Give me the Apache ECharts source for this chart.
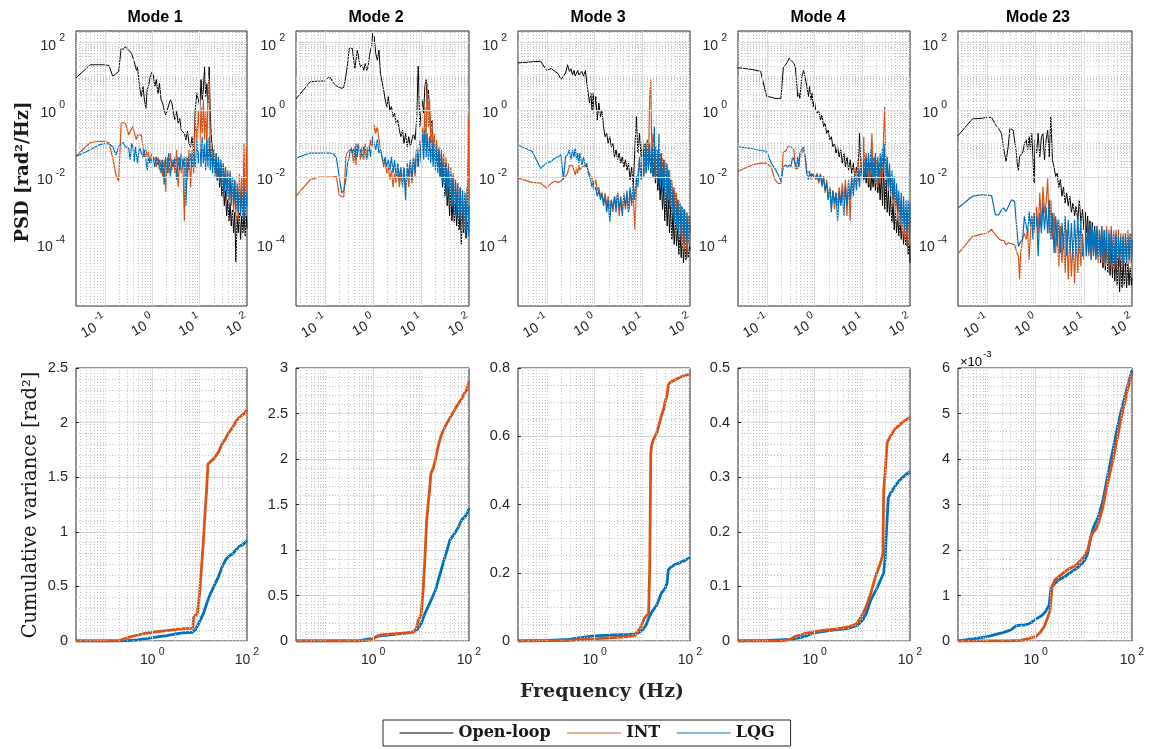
<!DOCTYPE html>
<html>
<head>
<meta charset="utf-8">
<script src="https://cdn.jsdelivr.net/npm/echarts@6.0.0/dist/echarts.min.js"></script>
<style>
html,body{margin:0;padding:0;background:#ffffff;}
#chart{width:1150px;height:749px;}
</style>
</head>
<body>
<div id="chart"></div>
<script>
// ---------------- DATA ----------------
const modeTitles = ['Mode 1', 'Mode 2', 'Mode 3', 'Mode 4', 'Mode 23'];
const seriesNames = ['Open-loop', 'INT', 'LQG'];
const psdYTickExp = [-4, -2, 0, 2];
const psdXTickExp = [-1, 0, 1, 2];
const cumXTickExp = [0, 2];
const cumYMax = [2.5, 3, 0.8, 0.5, 0.006];
const cumYStep = [0.5, 0.5, 0.2, 0.1, 0.001];

// frequency samples (Hz) shared by all PSD curves
const psdFreq = [
  0.0244,0.0488,0.0732,0.0977,0.122,0.146,0.171,0.195,0.22,0.244,0.269,0.293,0.317,0.342,0.366,0.391,0.415,0.44,0.464,0.488,
  0.537,0.586,0.635,0.684,0.732,0.781,0.83,0.879,0.928,0.977,
  1.05,1.13,1.22,1.32,1.42,1.53,1.65,1.78,1.92,2.07,2.23,2.41,2.6,2.8,3.02,3.26,3.52,3.79,4.09,4.41,4.76,5.13,5.53,5.97,6.44,6.94,7.49,8.07,8.71,9.39,
  10.1,10.7,11.3,12,12.7,13.4,14.2,15,15.9,16.8,17.8,18.8,19.9,21.1,22.3,23.6,25,26.5,28,29.6,31.4,33.2,35.1,37.2,39.3,41.6,44,46.6,49.3,52.2,55.2,58.4,61.8,65.4,69.2,73.2,77.5,82,86.8,91.8,97.2,100
];

const psdOpenMode1 = [
  9,22,22,22,21,10,12,14,68,63,76,81,60,68,48,50,27,30,15,19,
  5,2.5,5,2,1.1,4,5,8,11,13,
  11,5,8,3.1,6.2,2,1.6,1,0.7,0.8,1.4,2,1.6,0.8,0.5,0.9,0.4,0.56,0.25,0.28,0.2,0.13,0.23,0.1,0.08,0.16,0.05,1,3.1,2,
  1.25,8,2,4,19,2.5,6,1.6,19,0.63,0.13,0.065,0.04,0.013,0.03,0.008,0.02,0.005,0.013,0.0027,0.008,0.0014,0.004,7e-4,0.0021,5e-4,0.0017,3.5e-4,0.0011,2.2e-4,9e-4,3e-5,7e-4,2.2e-4,9e-4,1.4e-4,7e-4,2.2e-4,9e-4,1.8e-4,7e-4,3e-4
];
const psdIntMode1 = [
  0.041,0.107,0.115,0.115,0.107,0.037,0.0117,0.0075,0.4,0.42,0.4,0.28,0.18,0.23,0.23,0.32,0.28,0.16,0.13,0.18,
  0.2,0.18,0.08,0.04,0.065,0.04,0.058,0.026,0.04,0.052,
  0.033,0.04,0.02,0.04,0.016,0.033,0.0105,0.033,0.0037,0.04,0.013,0.052,0.016,0.033,0.013,0.065,0.005,0.04,0.013,0.033,5e-4,0.04,0.0084,0.065,0.005,0.065,0.013,0.5,0.13,1,
  0.08,1.25,0.2,2,0.13,1,0.08,2.5,8,0.033,0.08,0.02,0.065,0.013,0.052,0.0105,0.04,0.0084,0.033,0.005,0.026,0.0034,0.02,0.0021,0.013,0.0017,0.016,0.0014,0.0105,9e-4,0.0084,7e-4,0.005,5e-4,0.013,9e-4,0.0105,7e-4,0.1,5e-4,0.08,0.002
];
const psdLqgMode1 = [
  0.041,0.065,0.09,0.1,0.098,0.08,0.046,0.08,0.1,0.107,0.08,0.09,0.073,0.033,0.1,0.08,0.029,0.08,0.073,0.026,
  0.08,0.052,0.04,0.065,0.033,0.016,0.04,0.026,0.04,0.026,
  0.04,0.02,0.04,0.023,0.033,0.013,0.033,0.006,0.04,0.013,0.052,0.0105,0.033,0.02,0.04,0.0084,0.04,0.016,0.052,0.02,0.04,0.0014,0.04,0.016,0.052,0.02,0.065,0.02,0.13,0.026,
  0.1,0.02,0.16,0.026,0.1,0.016,0.13,0.02,0.16,0.016,0.08,0.013,0.065,0.0105,0.052,0.0084,0.04,0.0066,0.033,0.005,0.026,0.0034,0.02,0.0027,0.016,0.0021,0.013,0.0017,0.0105,0.0014,0.0084,0.0011,0.0066,9e-4,0.005,7e-4,0.004,5e-4,0.005,4.5e-4,0.0034,0.0014
];

const psdOpenMode2 = [
  2.1,6.9,7.2,7.2,10,6.5,5.2,4.7,4.4,4.7,10,24,68,72,68,68,17,17,60,43,
  19,22,15,24,15,19,38,60,76,190,
  150,48,30,60,12,7,4,2,1.25,2.5,1,1.25,0.63,0.8,0.4,0.5,0.25,0.16,0.25,0.1,0.2,0.08,0.16,0.08,0.13,0.2,0.13,0.5,20,0.32,
  1,2,0.8,5,8,1.6,4,1,0.2,0.5,0.065,0.13,0.033,0.065,0.02,0.04,0.0105,0.026,0.005,0.016,0.0027,0.0105,0.0014,0.005,7e-4,0.0034,5e-4,0.0021,4.5e-4,0.0017,3.5e-4,0.0014,2.7e-4,0.0011,1e-4,9e-4,2.2e-4,7e-4,1.5e-4,5e-4,2.2e-4,2.7e-4
];
const psdIntMode2 = [
  0.0027,0.0084,0.01,0.01,0.01,0.01,0.0105,0.003,0.0026,0.0026,0.04,0.058,0.058,0.065,0.052,0.026,0.08,0.023,0.08,0.1,
  0.033,0.08,0.033,0.1,0.04,0.08,0.065,0.13,0.08,0.1,
  0.36,0.2,0.32,0.13,0.065,0.04,0.02,0.033,0.013,0.02,0.0084,0.016,0.005,0.013,0.0066,0.016,0.005,0.013,0.0066,0.02,0.004,0.016,0.005,0.026,0.0066,0.04,0.0105,0.065,0.02,0.13,
  0.033,0.32,0.065,1.25,0.13,6.2,0.32,2,0.1,0.4,0.052,0.2,0.033,0.13,0.02,0.08,0.016,0.065,0.0105,0.052,0.0066,0.04,0.004,0.026,0.0027,0.02,0.0017,0.013,0.0014,0.0084,9e-4,0.0066,7e-4,0.005,4.5e-4,0.004,3.5e-4,0.0034,2.7e-4,0.0027,0.63,0.0021
];
const psdLqgMode2 = [
  0.037,0.052,0.052,0.052,0.052,0.05,0.037,0.0105,0.0034,0.004,0.0084,0.026,0.04,0.08,0.052,0.073,0.033,0.1,0.04,0.08,
  0.065,0.04,0.08,0.065,0.033,0.052,0.08,0.04,0.08,0.16,
  0.1,0.065,0.13,0.052,0.065,0.04,0.026,0.04,0.02,0.033,0.016,0.04,0.013,0.033,0.0105,0.026,0.0084,0.02,0.005,0.02,0.0021,0.026,0.0105,0.033,0.0084,0.04,0.013,0.08,0.02,0.1,
  0.026,0.2,0.033,0.25,0.04,0.2,0.033,0.16,0.026,0.13,0.02,0.1,0.016,0.08,0.013,0.065,0.0105,0.052,0.0066,0.033,0.004,0.026,0.0027,0.02,0.0017,0.013,0.0014,0.0105,9e-4,0.0084,7e-4,0.0066,5e-4,0.005,4.5e-4,0.004,2.7e-4,0.0034,2.2e-4,0.005,1.8e-4,0.0014
];

const psdOpenMode3 = [
  25,27,28,15,17,14,12,8,10,12.6,22,14,17,11,15,10,12.6,15,11,11,
  14,10,15,6.2,3.1,1.6,3.1,1,3.1,0.8,
  2.5,0.5,1.6,0.63,1,0.32,0.16,0.2,0.1,0.16,0.08,0.1,0.04,0.065,0.033,0.052,0.026,0.04,0.02,0.033,0.016,0.026,0.0084,0.02,0.005,0.065,0.63,0.052,0.2,0.04,
  0.13,0.033,0.1,0.026,0.08,0.02,0.065,0.013,0.052,0.0105,0.033,0.0066,0.02,0.004,0.013,0.0021,0.0084,0.0011,0.005,5e-4,0.0034,3.5e-4,0.0021,2.2e-4,0.0014,1.4e-4,9e-4,1e-4,5e-4,9e-5,3.5e-4,5e-5,2.2e-4,4e-5,1.8e-4,2.8e-5,1.4e-4,3.5e-5,1e-4,4e-5,9e-5,7e-5
];
const psdIntMode3 = [
  0.0093,0.007,0.0066,0.0047,0.0066,0.0075,0.007,0.0075,0.0093,0.0105,0.013,0.022,0.02,0.022,0.02,0.0117,0.018,0.013,0.023,0.016,
  0.02,0.018,0.023,0.02,0.015,0.013,0.0084,0.0105,0.0066,0.005,
  0.0084,0.004,0.005,0.0027,0.0034,0.0017,0.0034,0.0014,0.0027,0.0011,0.0021,9e-4,0.0027,0.0014,0.0034,7e-4,0.0021,9e-4,0.0034,0.0011,0.0027,9e-4,0.004,0.0014,0.0034,2.7e-4,0.005,0.013,0.033,0.0084,
  0.052,0.0105,0.08,0.013,0.13,0.02,2,8,0.033,0.2,0.02,0.08,0.013,0.065,0.0105,0.052,0.0084,0.04,0.005,0.033,0.0034,0.026,0.0021,0.016,0.0014,0.0084,9e-4,0.005,4.5e-4,0.0034,2.7e-4,0.0021,1.8e-4,0.0014,1e-4,0.0011,7e-5,9e-4,5e-5,7e-4,9e-5,3.5e-4
];
const psdLqgMode3 = [
  0.09,0.058,0.018,0.026,0.029,0.037,0.04,0.046,0.0084,0.04,0.046,0.065,0.033,0.065,0.04,0.073,0.033,0.052,0.026,0.052,
  0.023,0.04,0.02,0.026,0.013,0.0105,0.0075,0.005,0.0075,0.004,
  0.005,0.0027,0.004,0.0021,0.0034,0.0014,0.0027,9e-4,0.0021,4.5e-4,0.0021,0.0011,0.0027,9e-4,0.0034,0.0011,0.0027,7e-4,0.0027,0.0014,0.004,9e-4,0.005,0.0017,0.0066,0.0021,0.0105,0.005,0.04,0.0084,
  0.065,0.0105,0.08,0.013,0.13,0.016,0.1,0.013,0.08,0.0105,0.32,0.0084,0.065,0.0066,0.2,0.005,0.052,0.0034,0.033,0.0027,0.026,0.0017,0.016,0.0011,0.0084,7e-4,0.005,4.5e-4,0.0034,2.7e-4,0.0021,2.2e-4,0.0017,1.4e-4,0.0014,1e-4,0.0011,9e-5,9e-4,1e-4,7e-4,2.2e-4
];

const psdOpenMode4 = [
  18,16,14,2.5,2.4,2.2,2.2,2.2,19,22,27,35,30,27,24,19,7,2.5,3.1,2.2,
  10,15,14,5,2.5,5,2,3.1,1.25,2,
  1,0.8,1,0.5,0.7,0.32,0.4,0.2,0.25,0.13,0.16,0.08,0.1,0.052,0.08,0.04,0.065,0.026,0.052,0.02,0.04,0.016,0.033,0.013,0.026,0.0105,0.02,0.0084,0.2,0.013,
  0.033,0.0084,0.026,0.0066,0.02,0.005,0.016,0.004,0.013,0.005,0.016,0.004,0.013,0.0034,0.0105,0.0021,0.013,0.0014,0.02,0.0011,0.0084,9e-4,0.004,7e-4,0.0027,4.5e-4,0.0017,2.7e-4,0.0011,2.2e-4,7e-4,1.8e-4,5e-4,1.4e-4,4.5e-4,1e-4,3.5e-4,9e-5,2.7e-4,5e-5,2.2e-4,2.8e-5
];
const psdIntMode4 = [
  0.015,0.023,0.026,0.026,0.02,0.0084,0.0065,0.0065,0.058,0.058,0.08,0.08,0.08,0.073,0.065,0.018,0.016,0.018,0.023,0.04,
  0.052,0.065,0.04,0.013,0.0117,0.015,0.0084,0.013,0.0105,0.013,
  0.0084,0.0105,0.0066,0.013,0.005,0.0105,0.0034,0.0084,0.0021,0.005,0.0014,0.004,0.0011,0.0034,0.0014,0.005,0.0017,0.0066,0.0021,0.0084,7e-4,0.0084,5e-4,0.0105,0.0034,0.016,0.005,0.033,0.0084,0.04,
  0.0105,0.16,0.013,0.052,0.0105,0.04,0.005,0.033,0.2,0.0084,0.04,0.0066,0.033,0.005,0.026,0.0066,0.04,0.0084,0.2,1.25,0.0105,0.026,0.004,0.016,0.0027,0.0105,0.0014,0.0066,9e-4,0.004,5e-4,0.0027,3.5e-4,0.0021,2.2e-4,0.0014,1.4e-4,0.0011,1e-4,0.0014,9e-5,5e-4
];
const psdLqgMode4 = [
  0.08,0.07,0.062,0.058,0.026,0.018,0.0117,0.0075,0.02,0.023,0.02,0.023,0.02,0.04,0.033,0.026,0.02,0.04,0.02,0.052,
  0.058,0.08,0.033,0.013,0.0084,0.013,0.0105,0.013,0.0093,0.0117,
  0.0093,0.013,0.0075,0.0117,0.006,0.0105,0.004,0.0066,0.0021,0.005,9e-4,0.004,0.0017,0.0034,5e-4,0.0034,0.0014,0.004,7e-4,0.005,0.0014,0.0066,0.0021,0.0105,0.0027,0.013,0.004,0.016,0.005,0.026,
  0.0066,0.033,0.0084,0.04,0.0105,0.052,0.0084,0.065,0.0105,0.04,0.0084,0.052,0.0066,0.04,0.0084,0.052,0.0105,0.08,0.013,0.1,0.0084,0.04,0.005,0.026,0.0034,0.016,0.0021,0.0105,0.0014,0.0066,9e-4,0.004,5e-4,0.0034,3.5e-4,0.0027,2.7e-4,0.0021,2.2e-4,0.0021,1.4e-4,0.0017
];

const psdOpenMode23 = [
  0.17,0.54,0.56,0.6,0.6,0.36,0.28,0.2,0.065,0.029,0.08,0.28,0.32,0.25,0.23,0.065,0.026,0.016,0.04,0.046,
  0.052,0.1,0.13,0.065,0.16,0.065,0.2,0.04,0.0066,0.13,
  0.052,0.2,0.04,0.16,0.2,0.033,0.13,0.25,0.04,0.63,0.033,0.02,0.0105,0.013,0.005,0.0084,0.0027,0.005,0.0017,0.0034,0.0014,0.0027,9e-4,0.0017,7e-4,0.0014,5e-4,0.0021,4.5e-4,0.0011,
  2.7e-4,9e-4,2.2e-4,7e-4,1.4e-4,5e-4,1e-4,4.5e-4,9e-5,3.5e-4,5e-5,2.7e-4,4e-5,2.2e-4,2.8e-5,1.8e-4,2e-5,1.4e-4,1.7e-5,1e-4,1.4e-5,9e-5,1.2e-5,7e-5,1e-5,5e-5,8e-6,5e-5,6e-6,4e-5,3.8e-6,3.5e-5,5e-6,3.5e-5,6e-6,2.8e-5,5e-6,2.8e-5,6e-6,2e-5,6e-6,1e-5
];
const psdIntMode23 = [
  5.2e-5,1.7e-4,2e-4,2.1e-4,2.8e-4,1.9e-4,1.5e-4,1.3e-4,1.3e-4,9.7e-5,1.1e-4,1e-4,1.05e-4,9.7e-5,9.7e-5,7e-5,5.5e-5,4.4e-5,9e-6,5e-5,
  1.5e-4,2.1e-4,1.4e-4,2.7e-4,3.5e-5,2.1e-4,6.8e-4,2.7e-4,8.5e-4,2.1e-4,
  1.3e-3,2.1e-4,3.4e-3,3.5e-4,5.2e-3,8.5e-4,1.7e-3,9.3e-3,2.1e-4,2.1e-3,1.4e-4,8.5e-4,5.5e-5,5.4e-4,2.2e-5,3.5e-4,2.8e-5,2.1e-4,1.4e-5,2.7e-4,9e-6,1.7e-4,1.1e-5,1.4e-4,7e-6,2.1e-4,1.4e-5,2.7e-4,2.2e-5,2.1e-4,
  3.5e-5,2.7e-4,4.4e-5,3.5e-4,4.4e-5,2.7e-4,3.5e-5,3.5e-4,4.4e-5,2.7e-4,3.5e-5,3.5e-4,2.8e-5,2.7e-4,3.5e-5,3.5e-4,2.8e-5,2.7e-4,2.2e-5,3.5e-4,2.8e-5,2.7e-4,2.2e-5,3.5e-4,2.2e-5,2.7e-4,1.8e-5,2.7e-4,1.8e-5,2.7e-4,2.2e-5,2.1e-4,1.8e-5,2.1e-4,2.2e-5,2.1e-4,2.2e-5,2.7e-4,2.8e-5,2.1e-4,3.5e-5,2.1e-4
];
const psdLqgMode23 = [
  1.2e-3,2.7e-3,3e-3,2.9e-3,2.8e-3,7.5e-4,7.5e-4,1.05e-3,1.2e-3,9.5e-4,1.3e-3,1.7e-3,2.1e-3,2e-3,1.9e-3,1.8e-3,2e-4,8.7e-5,9.7e-5,1.2e-4,
  1.4e-4,6.8e-4,6e-4,2.1e-4,9.5e-4,3.5e-4,6.8e-4,1.4e-4,8.5e-4,2.7e-4,
  6.8e-4,4.4e-5,8.5e-4,2.1e-4,1.7e-3,2.7e-4,1.3e-3,2.1e-4,2.1e-3,1.4e-4,8.5e-4,5.5e-5,6.8e-4,8.7e-5,5.4e-4,5.5e-5,4.3e-4,7e-5,6.8e-4,4.4e-5,5.4e-4,5.5e-5,4.3e-4,3.5e-5,5.4e-4,4.4e-5,6.8e-4,5.5e-5,5.4e-4,4.4e-5,
  5.5e-5,4.3e-4,4.4e-5,3.5e-4,5.5e-5,4.3e-4,3.5e-5,3.5e-4,4.4e-5,2.7e-4,3.5e-5,3.5e-4,4.4e-5,2.7e-4,3.5e-5,3.5e-4,4.4e-5,2.7e-4,2.8e-5,2.7e-4,3.5e-5,2.1e-4,2.8e-5,2.7e-4,2.8e-5,2.1e-4,2.2e-5,2.1e-4,2.8e-5,1.7e-4,2.2e-5,1.7e-4,2.8e-5,1.7e-4,2.2e-5,2.1e-4,2.8e-5,1.7e-4,3.5e-5,2.1e-4,2.8e-5,1.4e-4
];

// cumulative variance: [frequency Hz, variance rad^2]
const cumIntMode1 = [[0.0244,0],[0.1,0],[0.2,0.003],[0.3,0.03],[0.4,0.045],[0.5,0.055],[0.7,0.07],[1,0.08],[2,0.095],[3,0.105],[5,0.113],[7.2,0.116],[7.4,0.21],[8,0.22],[9,0.26],[10,0.44],[11,0.68],[12,0.92],[13,1.17],[14,1.38],[15,1.62],[16,1.63],[20,1.67],[25,1.73],[30,1.81],[35,1.85],[40,1.9],[50,1.96],[60,2.02],[70,2.05],[80,2.07],[90,2.09],[100,2.12]];
const cumLqgMode1 = [[0.0244,0],[0.2,0],[0.3,0.003],[0.5,0.01],[1,0.03],[2,0.05],[3,0.064],[5,0.076],[7,0.08],[8,0.1],[9,0.14],[10,0.18],[12,0.25],[14,0.34],[16,0.41],[20,0.5],[25,0.59],[30,0.68],[35,0.74],[40,0.77],[50,0.8],[60,0.84],[70,0.87],[80,0.88],[100,0.92]];
const cumIntMode2 = [[0.0244,0],[0.5,0],[0.8,0.01],[1,0.02],[1.2,0.055],[1.4,0.066],[2,0.073],[3,0.08],[5,0.09],[7,0.1],[8,0.14],[8.5,0.21],[9,0.23],[10,0.29],[11,0.55],[12,0.9],[13,1.3],[14,1.5],[15,1.65],[16,1.84],[18,1.9],[20,2.0],[23,2.15],[26,2.25],[30,2.33],[35,2.4],[42,2.47],[50,2.54],[60,2.61],[70,2.66],[80,2.72],[90,2.76],[97,2.78],[100,2.86]];
const cumLqgMode2 = [[0.0244,0],[0.5,0.003],[1,0.03],[1.2,0.05],[2,0.065],[3,0.075],[5,0.088],[7,0.1],[8.5,0.13],[10,0.19],[12,0.3],[15,0.41],[20,0.56],[25,0.74],[30,0.89],[35,1.0],[40,1.11],[50,1.18],[60,1.25],[70,1.33],[80,1.36],[90,1.39],[100,1.46]];
const cumIntMode3 = [[0.0244,0],[0.3,0.002],[0.5,0.005],[1,0.006],[2,0.009],[5,0.013],[7,0.016],[8,0.027],[9,0.037],[10,0.052],[11,0.066],[12,0.073],[13.5,0.08],[14.3,0.22],[15,0.55],[15.5,0.57],[17,0.59],[20,0.61],[22,0.63],[25,0.66],[28,0.68],[30,0.7],[33,0.72],[35,0.75],[38,0.757],[50,0.766],[60,0.772],[70,0.776],[80,0.778],[100,0.783]];
const cumLqgMode3 = [[0.0244,0],[0.1,0.002],[0.3,0.005],[0.5,0.01],[1,0.015],[2,0.017],[5,0.019],[7,0.021],[8,0.022],[10,0.032],[12,0.047],[14,0.071],[16,0.086],[20,0.105],[25,0.14],[30,0.154],[33,0.169],[35,0.208],[40,0.217],[50,0.225],[60,0.229],[80,0.237],[100,0.245]];
const cumIntMode4 = [[0.0244,0],[0.2,0],[0.3,0.003],[0.4,0.009],[0.5,0.011],[0.7,0.015],[1,0.017],[1.5,0.0195],[2,0.021],[3,0.022],[5,0.026],[7,0.03],[8,0.034],[10,0.048],[12,0.063],[15,0.087],[18,0.112],[20,0.124],[25,0.148],[27,0.16],[28,0.276],[30,0.307],[33,0.362],[35,0.368],[40,0.377],[50,0.39],[60,0.395],[70,0.401],[80,0.404],[100,0.41]];
const cumLqgMode4 = [[0.0244,0],[0.1,0.001],[0.3,0.003],[0.5,0.006],[0.7,0.01],[1,0.015],[2,0.019],[5,0.023],[8,0.029],[10,0.038],[12,0.05],[15,0.075],[20,0.096],[25,0.115],[28,0.125],[30,0.15],[32,0.2],[35,0.262],[40,0.272],[50,0.285],[60,0.294],[80,0.304],[100,0.31]];
const cumIntMode23 = [[0.0244,0],[0.3,5e-6],[0.5,1.5e-5],[0.8,7e-5],[1,9.5e-5],[1.2,1.7e-4],[1.5,3.1e-4],[1.8,5.3e-4],[2,6.8e-4],[2.1,9.7e-4],[2.2,1.19e-3],[2.5,1.34e-3],[3,1.41e-3],[4,1.52e-3],[5,1.59e-3],[7,1.67e-3],[10,1.85e-3],[12,2.0e-3],[14,2.29e-3],[15,2.36e-3],[18,2.47e-3],[20,2.58e-3],[25,2.95e-3],[30,3.39e-3],[40,3.97e-3],[50,4.48e-3],[60,4.92e-3],[70,5.22e-3],[80,5.51e-3],[100,5.87e-3]];
const cumLqgMode23 = [[0.0244,0],[0.05,4.5e-5],[0.1,9.5e-5],[0.15,1.46e-4],[0.2,1.8e-4],[0.3,2.4e-4],[0.4,3.4e-4],[0.5,3.5e-4],[0.6,3.5e-4],[0.8,4e-4],[1,4.8e-4],[1.3,5.5e-4],[1.6,6.4e-4],[1.9,7.9e-4],[2.1,1.19e-3],[2.3,1.23e-3],[3,1.34e-3],[4,1.41e-3],[5,1.49e-3],[7,1.59e-3],[10,1.74e-3],[12,1.92e-3],[14,2.29e-3],[16,2.51e-3],[20,2.73e-3],[25,3.09e-3],[30,3.53e-3],[40,4.19e-3],[50,4.7e-3],[60,5.07e-3],[80,5.58e-3],[100,5.95e-3]];

// ---------------- BUILD ----------------
const psdOpen = [psdOpenMode1, psdOpenMode2, psdOpenMode3, psdOpenMode4, psdOpenMode23];
const psdInt = [psdIntMode1, psdIntMode2, psdIntMode3, psdIntMode4, psdIntMode23];
const psdLqg = [psdLqgMode1, psdLqgMode2, psdLqgMode3, psdLqgMode4, psdLqgMode23];
const cumInt = [cumIntMode1, cumIntMode2, cumIntMode3, cumIntMode4, cumIntMode23];
const cumLqg = [cumLqgMode1, cumLqgMode2, cumLqgMode3, cumLqgMode4, cumLqgMode23];

const COL_OPEN = '#000000', COL_INT = '#D95319', COL_LQG = '#0072BD';
const LEFT = [76, 296, 518, 738, 958];
const WIDTH = [171, 173, 172, 172, 174];
const TITLE_X = [155, 376, 598, 818, 1038];
const TOP_Y = 31, TOP_H = 275, BOT_Y = 368, BOT_H = 273;
const X_MIN = 0.0245, X_MAX = 100, PSD_MIN = 1.46e-6, PSD_MAX = 223;
const SANS = 'Liberation Sans', SERIF = 'DejaVu Serif';
const TXT = '#262626';
const MAJOR = {color: '#dcdcdc', width: 1, type: 'solid'};
const MINOR = {color: '#c4c4c4', width: 1, type: [1, 2]};

const supRich = {
  b: {fontFamily: SANS, fontSize: 14, color: TXT, padding: [6, 0, 0, 0]},
  s: {fontFamily: SANS, fontSize: 10.5, color: TXT, verticalAlign: 'top', padding: [0, 0, 0, 3]}
};
function expOf(v) {
  const e = Math.log10(v), r = Math.round(e);
  return Math.abs(e - r) < 1e-6 ? r : null;
}
function powLabel(allowed) {
  return function (v) {
    const e = expOf(v);
    if (e === null || allowed.indexOf(e) < 0) return '';
    return '{b|10}{s|' + e + '}';
  };
}
function logGridValues(lo, hi, majors) {
  const out = [];
  for (let e = Math.floor(Math.log10(lo)); e <= Math.ceil(Math.log10(hi)); e++) {
    for (let k = 1; k <= 9; k++) {
      const v = k * Math.pow(10, e);
      if (v > lo * 1.0001 && v < hi * 0.9999 && !majors.some(m => Math.abs(m - v) / m < 1e-6)) out.push(v);
    }
  }
  return out;
}
const topXMajor = [0.1, 1, 10];
const topYMajor = [1e-4, 1e-2, 1, 100];
const botXMajor = [1];
const topXMinor = logGridValues(X_MIN, X_MAX, topXMajor);
const topYMinor = logGridValues(PSD_MIN, PSD_MAX, topYMajor);
const botXMinor = logGridValues(X_MIN, X_MAX, botXMajor);

function gridLineSeries(idx, xMaj, xMin, yMaj, yMin) {
  const data = [];
  xMin.forEach(v => data.push({xAxis: v, lineStyle: MINOR}));
  yMin.forEach(v => data.push({yAxis: v, lineStyle: MINOR}));
  xMaj.forEach(v => data.push({xAxis: v, lineStyle: MAJOR}));
  yMaj.forEach(v => data.push({yAxis: v, lineStyle: MAJOR}));
  return {
    type: 'line', name: '_grid' + idx, xAxisIndex: idx, yAxisIndex: idx, data: [], z: 1, silent: true,
    markLine: {silent: true, symbol: ['none', 'none'], label: {show: false}, animation: false,
      emphasis: {disabled: true}, lineStyle: MAJOR, data: data}
  };
}

const grids = [], xAxes = [], yAxes = [], series = [], graphics = [];

for (let i = 0; i < 5; i++) {
  grids.push({left: LEFT[i], top: TOP_Y, width: WIDTH[i], height: TOP_H, show: true,
    borderColor: TXT, borderWidth: 1, backgroundColor: '#ffffff', containLabel: false, outerBoundsMode: 'none'});
  xAxes.push({type: 'log', logBase: 10, gridIndex: i, min: X_MIN, max: X_MAX,
    axisLine: {show: false}, axisTick: {show: false}, splitLine: {show: false},
    axisLabel: {interval: 0, rotate: 30, margin: 12, hideOverlap: false, formatter: powLabel(psdXTickExp), rich: supRich}});
  yAxes.push({type: 'log', logBase: 10, gridIndex: i, min: PSD_MIN, max: PSD_MAX,
    axisLine: {show: false}, axisTick: {show: false}, splitLine: {show: false},
    axisLabel: {interval: 0, margin: 11, hideOverlap: false, formatter: powLabel(psdYTickExp), rich: supRich}});
  series.push(gridLineSeries(i, topXMajor, topXMinor, topYMajor, topYMinor));
  const mk = (name, vals, col, w) => ({
    type: 'line', name: name, xAxisIndex: i, yAxisIndex: i, z: 2, silent: true,
    symbol: 'none', showSymbol: false, clip: true,
    lineStyle: {color: col, width: w}, itemStyle: {color: col},
    data: psdFreq.map((f, k) => [f, vals[k]])
  });
  series.push(mk(seriesNames[0], psdOpen[i], COL_OPEN, 1));
  series.push(mk(seriesNames[1], psdInt[i], COL_INT, 1.2));
  series.push(mk(seriesNames[2], psdLqg[i], COL_LQG, 1.2));
  graphics.push({type: 'text', x: TITLE_X[i], y: 18, silent: true,
    style: {text: modeTitles[i], textAlign: 'center', textVerticalAlign: 'middle',
      font: 'bold 16px "' + SANS + '"', fill: '#000000'}});
}

for (let i = 0; i < 5; i++) {
  const g = 5 + i;
  grids.push({left: LEFT[i], top: BOT_Y, width: WIDTH[i], height: BOT_H, show: true,
    borderColor: TXT, borderWidth: 1, backgroundColor: '#ffffff', containLabel: false, outerBoundsMode: 'none'});
  xAxes.push({type: 'log', logBase: 10, gridIndex: g, min: X_MIN, max: X_MAX,
    axisLine: {show: false}, axisTick: {show: false}, splitLine: {show: false},
    axisLabel: {interval: 0, margin: 6, hideOverlap: false, formatter: powLabel(cumXTickExp), rich: supRich}});
  const yAx = {type: 'value', gridIndex: g, min: 0, max: cumYMax[i], interval: cumYStep[i],
    axisLine: {show: false},
    axisTick: {show: true, inside: true, length: 3, lineStyle: {color: TXT}},
    splitLine: {show: true, lineStyle: {color: MAJOR.color, width: 1}},
    minorTick: {show: false, splitNumber: i === 2 ? 4 : 5},
    minorSplitLine: {show: true, lineStyle: {color: MINOR.color, width: 1, type: [1, 2]}},
    axisLabel: {margin: 8, color: TXT, fontFamily: SANS, fontSize: 14.5, hideOverlap: false}};
  if (i === 4) yAx.axisLabel.formatter = v => String(Math.round(v * 1000));
  yAxes.push(yAx);
  series.push(gridLineSeries(g, botXMajor, botXMinor, [], []));
  series.push({type: 'line', name: seriesNames[2], xAxisIndex: g, yAxisIndex: g, z: 2, silent: true,
    symbol: 'none', showSymbol: false, clip: true, lineStyle: {color: COL_LQG, width: 2.8}, itemStyle: {color: COL_LQG},
    data: cumLqg[i]});
  series.push({type: 'line', name: seriesNames[1], xAxisIndex: g, yAxisIndex: g, z: 2, silent: true,
    symbol: 'none', showSymbol: false, clip: true, lineStyle: {color: COL_INT, width: 2.8}, itemStyle: {color: COL_INT},
    data: cumInt[i]});
}

// axis titles & exponent note
graphics.push({type: 'text', x: 23, y: 172, rotation: Math.PI / 2, silent: true,
  style: {text: 'PSD [rad\u00B2/Hz]', textAlign: 'center', textVerticalAlign: 'middle',
    font: 'bold 18px "' + SERIF + '"', fill: '#1a1a1a'}});
graphics.push({type: 'text', x: 31, y: 505, rotation: Math.PI / 2, silent: true,
  style: {text: 'Cumulative variance [rad\u00B2]', textAlign: 'center', textVerticalAlign: 'middle',
    font: '19.5px "' + SERIF + '"', fill: '#1a1a1a'}});
graphics.push({type: 'text', x: 602, y: 692, silent: true,
  style: {text: 'Frequency (Hz)', textAlign: 'center', textVerticalAlign: 'middle',
    font: 'bold 19px "' + SERIF + '"', fill: '#262626'}});
graphics.push({type: 'text', x: 960, y: 359, silent: true,
  style: {text: '{a|\u00D710}{b|-3}', textVerticalAlign: 'middle',
    rich: {a: {fontFamily: SANS, fontSize: 13, color: TXT, padding: [6, 0, 0, 0]},
           b: {fontFamily: SANS, fontSize: 9.5, color: TXT, verticalAlign: 'top', padding: [0, 0, 0, 1]}}}});

const option = {
  animation: false,
  backgroundColor: '#ffffff',
  textStyle: {fontFamily: SANS, color: TXT},
  grid: grids,
  xAxis: xAxes,
  yAxis: yAxes,
  legend: {
    data: seriesNames, left: 383, top: 720, orient: 'horizontal',
    padding: [5, 16, 5, 16], itemWidth: 54, itemHeight: 12, itemGap: 16,
    borderColor: TXT, borderWidth: 1, backgroundColor: '#ffffff',
    selectedMode: false,
    itemStyle: {opacity: 0, borderWidth: 0},
    lineStyle: {width: 1},
    textStyle: {fontFamily: SERIF, fontWeight: 'bold', fontSize: 16, color: '#1a1a1a'}
  },
  graphic: graphics,
  series: series
};

const chart = echarts.init(document.getElementById('chart'), null, {renderer: 'canvas'});
chart.setOption(option);
</script>
</body>
</html>
